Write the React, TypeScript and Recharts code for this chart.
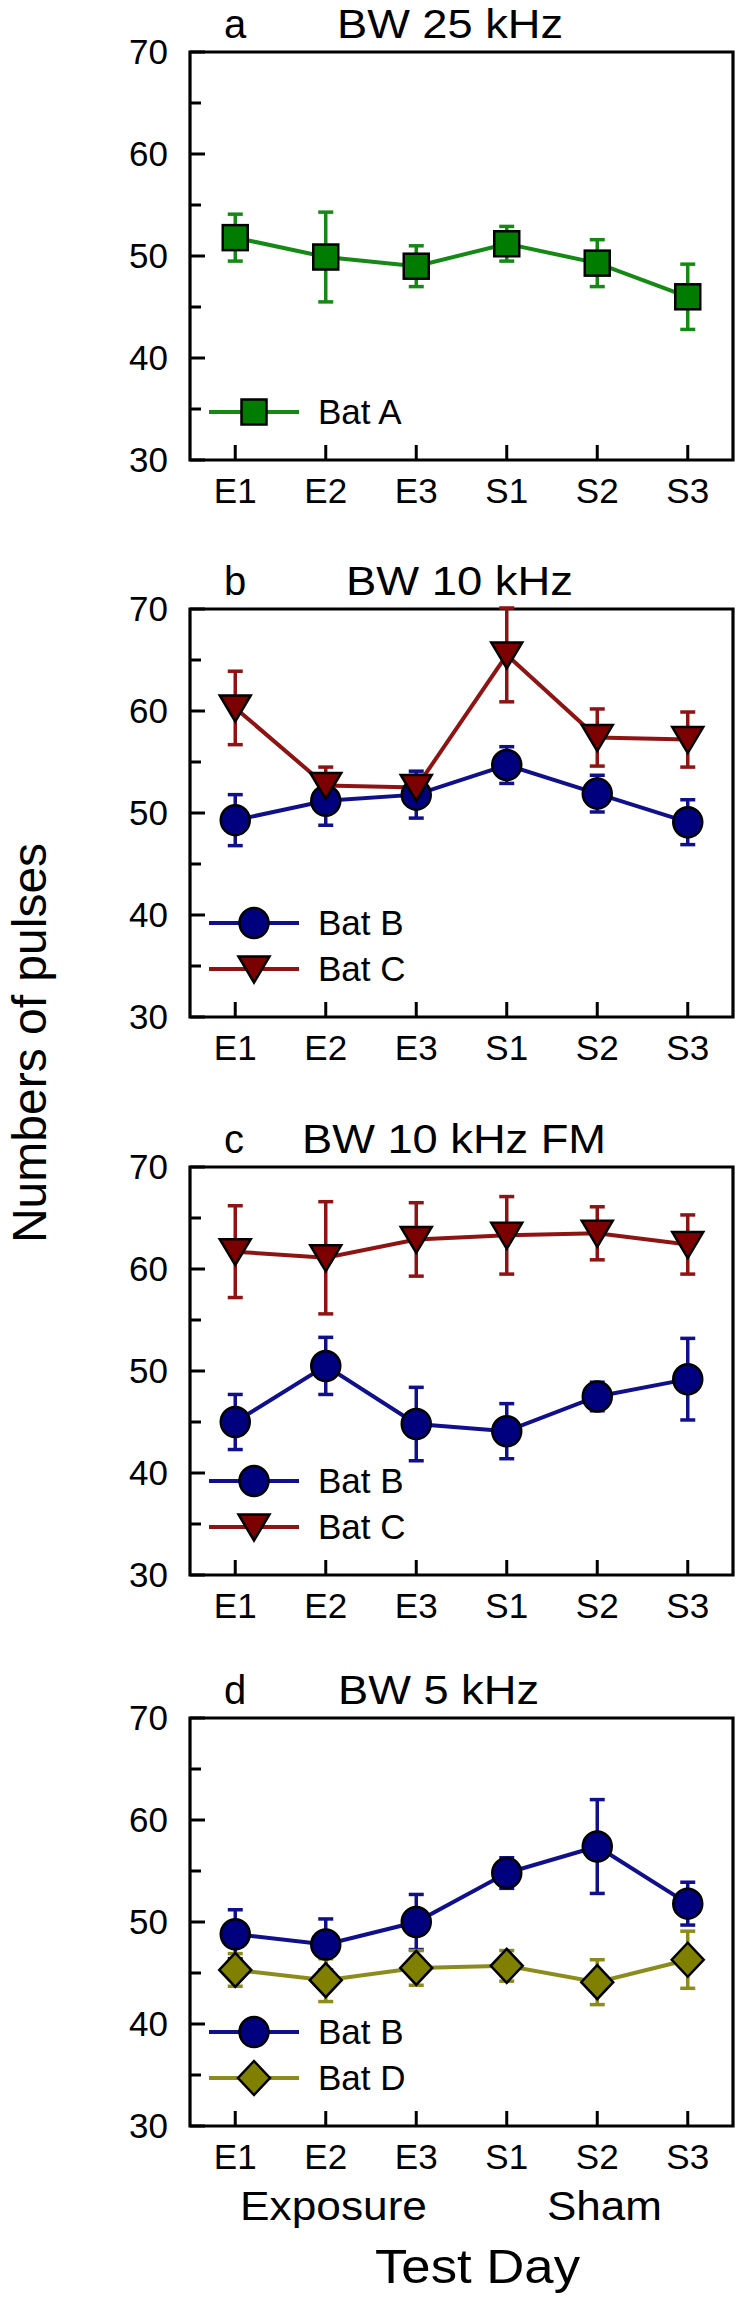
import React from 'react';
import { LineChart, Line, XAxis, YAxis, ErrorBar, ReferenceArea, Legend } from 'recharts';

// ---------- data ----------
const DAYS = ['E1', 'E2', 'E3', 'S1', 'S2', 'S3'];
const DAY_X = [1, 2, 3, 4, 5, 6];
const Y_TICKS = [30, 35, 40, 45, 50, 55, 60, 65, 70];

// panel a: BW 25 kHz
const BAT_A_BW25 = [51.8, 49.9, 49.0, 51.2, 49.3, 46.0];
const BAT_A_BW25_ERR = [2.3, 4.4, 2.0, 1.7, 2.3, 3.2];

// panel b: BW 10 kHz
const BAT_B_BW10 = [49.3, 51.2, 51.8, 54.7, 51.9, 49.1];
const BAT_B_BW10_ERR = [2.5, 2.4, 2.3, 1.8, 1.8, 2.2];
const BAT_C_BW10 = [60.3, 52.7, 52.5, 65.5, 57.4, 57.2];
const BAT_C_BW10_ERR = [3.6, 1.8, 1.2, 4.6, 2.8, 2.7];

// panel c: BW 10 kHz FM
const BAT_B_FM = [45.0, 50.5, 44.8, 44.1, 47.5, 49.2];
const BAT_B_FM_ERR = [2.7, 2.8, 3.6, 2.7, 1.4, 4.0];
const BAT_C_FM = [61.7, 61.1, 62.9, 63.3, 63.5, 62.4];
const BAT_C_FM_ERR = [4.5, 5.5, 3.6, 3.8, 2.6, 2.9];

// panel d: BW 5 kHz
const BAT_B_BW5 = [48.8, 47.8, 50.0, 54.8, 57.4, 51.8];
const BAT_B_BW5_ERR = [2.4, 2.5, 2.7, 1.5, 4.6, 2.1];
const BAT_D_BW5 = [45.3, 44.3, 45.5, 45.7, 44.1, 46.3];
const BAT_D_BW5_ERR = [1.6, 2.1, 1.7, 1.5, 2.2, 2.8];

// ---------- styles ----------
const FONT = '"Liberation Sans", Arial, Helvetica, sans-serif';
const GREEN = { line: '#148a14', fill: '#007d00' };
const BLUE = { line: '#10108c', fill: '#00007f' };
const RED = { line: '#8e1414', fill: '#7c0000' };
const OLIVE = { line: '#8c8c1c', fill: '#7f7f00' };

type Shape = 'square' | 'circle' | 'triangle' | 'diamond';
type Series = {
  key: string;
  name: string;
  values: number[];
  errors: number[];
  line: string;
  fill: string;
  shape: Shape;
};

const PANELS: { letter: string; title: string; series: Series[] }[] = [
  {
    letter: 'a',
    title: 'BW 25 kHz',
    series: [
      { key: 'batA', name: 'Bat A', values: BAT_A_BW25, errors: BAT_A_BW25_ERR, ...GREEN, shape: 'square' },
    ],
  },
  {
    letter: 'b',
    title: 'BW 10 kHz',
    series: [
      { key: 'batB', name: 'Bat B', values: BAT_B_BW10, errors: BAT_B_BW10_ERR, ...BLUE, shape: 'circle' },
      { key: 'batC', name: 'Bat C', values: BAT_C_BW10, errors: BAT_C_BW10_ERR, ...RED, shape: 'triangle' },
    ],
  },
  {
    letter: 'c',
    title: 'BW 10 kHz FM',
    series: [
      { key: 'batB', name: 'Bat B', values: BAT_B_FM, errors: BAT_B_FM_ERR, ...BLUE, shape: 'circle' },
      { key: 'batC', name: 'Bat C', values: BAT_C_FM, errors: BAT_C_FM_ERR, ...RED, shape: 'triangle' },
    ],
  },
  {
    letter: 'd',
    title: 'BW 5 kHz',
    series: [
      { key: 'batB', name: 'Bat B', values: BAT_B_BW5, errors: BAT_B_BW5_ERR, ...BLUE, shape: 'circle' },
      { key: 'batD', name: 'Bat D', values: BAT_D_BW5, errors: BAT_D_BW5_ERR, ...OLIVE, shape: 'diamond' },
    ],
  },
];

// ---------- layout ----------
const PLOT_TOPS = [52, 609, 1167, 1718];
const TOP_MARGIN = 52;
const CHART_H = 520;
const TITLE_X = [337, 346, 302, 338];
const TITLE_W = [226, 227, 304, 201];
const LEGEND_LAST_ROW = 412;
const LEGEND_GAP = 46;

function Marker({ shape, cx, cy, fill }: { shape: Shape; cx: number; cy: number; fill: string }) {
  const common = { fill, stroke: '#000', strokeWidth: 2.5 };
  if (shape === 'square') return <rect x={cx - 12.5} y={cy - 12.5} width={25} height={25} {...common} />;
  if (shape === 'circle') return <ellipse cx={cx} cy={cy} rx={14.5} ry={15} {...common} />;
  if (shape === 'triangle')
    return <polygon points={`${cx - 15.5},${cy - 12.5} ${cx + 15.5},${cy - 12.5} ${cx},${cy + 13.5}`} {...common} />;
  return <polygon points={`${cx},${cy - 17} ${cx + 16},${cy} ${cx},${cy + 17} ${cx - 16},${cy}`} {...common} />;
}

function XTick(props: any) {
  const { x, y, payload } = props;
  const label = DAYS[DAY_X.indexOf(payload.value)];
  return (
    <g>
      <line x1={x} x2={x} y1={y} y2={y - 15} stroke="#000" strokeWidth={3} />
      <text x={x} y={y + 43} textAnchor="middle" fontSize={35} fontFamily={FONT} fill="#000">
        {label}
      </text>
    </g>
  );
}

function YTick(props: any) {
  const { x, y, payload } = props;
  const v = payload.value;
  const major = v % 10 === 0;
  const axisX = x + 22;
  return (
    <g>
      <line x1={axisX} x2={axisX + (major ? 15 : 11)} y1={y} y2={y} stroke="#000" strokeWidth={3} />
      {major && (
        <text x={x} y={y} dy={12} textAnchor="end" fontSize={35} fontFamily={FONT} fill="#000">
          {v}
        </text>
      )}
    </g>
  );
}

function makeLegend(series: Series[]) {
  return () => (
    <div style={{ position: 'relative', width: 740, height: CHART_H }}>
      {series.map((s, i) => {
        const cy = LEGEND_LAST_ROW - (series.length - 1 - i) * LEGEND_GAP;
        return (
          <div
            key={s.key}
            style={{ position: 'absolute', left: 200, top: cy - 23, height: 46, display: 'flex', alignItems: 'center' }}
          >
            <svg width={110} height={46} style={{ display: 'block' }}>
              <line x1={9} x2={99} y1={23} y2={23} stroke={s.line} strokeWidth={4} />
              <Marker shape={s.shape} cx={54} cy={23} fill={s.fill} />
            </svg>
            <span style={{ marginLeft: 8, fontSize: 35, fontFamily: FONT, color: '#000', lineHeight: '46px', whiteSpace: 'nowrap' }}>
              {s.name}
            </span>
          </div>
        );
      })}
    </div>
  );
}

function rowsFor(series: Series[]) {
  return DAY_X.map((x, i) => {
    const row: Record<string, number> = { x };
    series.forEach((s) => {
      row[s.key] = s.values[i];
      row[s.key + 'Err'] = s.errors[i];
    });
    return row;
  });
}

export default function App() {
  return (
    <div style={{ position: 'absolute', left: 0, top: 0, width: 740, height: 2300, background: '#fff', fontFamily: FONT }}>
      {PANELS.map((p, pi) => (
        <div key={p.letter} style={{ position: 'absolute', left: 0, top: PLOT_TOPS[pi] - TOP_MARGIN }}>
          <LineChart
            width={740}
            height={CHART_H}
            data={rowsFor(p.series)}
            margin={{ top: TOP_MARGIN, right: 7, bottom: 0, left: 0 }}
          >
            <XAxis
              type="number"
              dataKey="x"
              domain={[0.5, 6.5]}
              ticks={DAY_X}
              allowDataOverflow
              axisLine={false}
              tickLine={false}
              tickSize={0}
              tickMargin={0}
              height={60}
              interval={0}
              tick={<XTick />}
            />
            <YAxis
              type="number"
              domain={[30, 70]}
              ticks={Y_TICKS}
              allowDataOverflow
              axisLine={false}
              tickLine={false}
              tickSize={0}
              tickMargin={22}
              width={190}
              interval={0}
              tick={<YTick />}
            />
            <ReferenceArea x1={0.5} x2={6.5} y1={30} y2={70} fill="none" fillOpacity={0} stroke="#000" strokeWidth={3.2} />
            {p.series.map((s) => (
              <Line
                key={s.key}
                dataKey={s.key}
                name={s.name}
                stroke={s.line}
                strokeWidth={4}
                isAnimationActive={false}
                activeDot={false}
                dot={(d: any) => <Marker key={`${s.key}-${d.index}`} shape={s.shape} cx={d.cx} cy={d.cy} fill={s.fill} />}
              >
                <ErrorBar dataKey={s.key + 'Err'} direction="y" width={7.5} strokeWidth={3.5} stroke={s.line} />
              </Line>
            ))}
            <Legend
              layout="vertical"
              align="center"
              verticalAlign="middle"
              wrapperStyle={{ left: 0, top: 0, width: 740, height: CHART_H }}
              content={makeLegend(p.series)}
            />
          </LineChart>
        </div>
      ))}
      <svg
        width={740}
        height={2300}
        style={{ position: 'absolute', left: 0, top: 0, pointerEvents: 'none' }}
        fontFamily={FONT}
      >
        {PANELS.map((p, pi) => (
          <g key={p.letter}>
            <text x={224} y={PLOT_TOPS[pi] - 14} fontSize={40} fill="#000">
              {p.letter}
            </text>
            <text
              x={TITLE_X[pi]}
              y={PLOT_TOPS[pi] - 14}
              fontSize={40}
              textLength={TITLE_W[pi]}
              lengthAdjust="spacingAndGlyphs"
              fill="#000"
            >
              {p.title}
            </text>
          </g>
        ))}
        <text x={240} y={2220} fontSize={41} textLength={187} lengthAdjust="spacingAndGlyphs" fill="#000">
          Exposure
        </text>
        <text x={547} y={2220} fontSize={41} textLength={115} lengthAdjust="spacingAndGlyphs" fill="#000">
          Sham
        </text>
        <text x={375} y={2283} fontSize={49} textLength={205} lengthAdjust="spacingAndGlyphs" fill="#000">
          Test Day
        </text>
        <text x={46} y={1043} fontSize={48} textAnchor="middle" fill="#000" transform="rotate(-90, 46, 1043)">
          Numbers of pulses
        </text>
      </svg>
    </div>
  );
}
